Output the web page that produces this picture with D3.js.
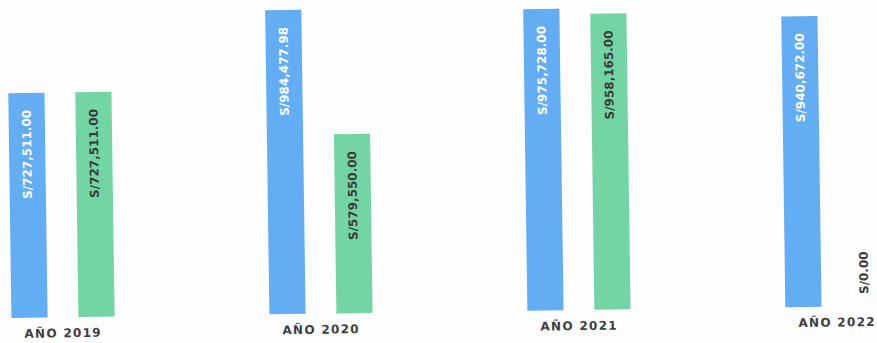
<!DOCTYPE html>
<html>
<head>
<meta charset="utf-8">
<script src="https://cdnjs.cloudflare.com/ajax/libs/d3/7.8.5/d3.min.js"></script>
<style>
  html, body { margin: 0; padding: 0; background: #fdfdfd; }
  svg { display: block; }
</style>
</head>
<body>
<div id="root"></div>
<script>
const w = 877;
const h = 343;

// data
const years = ["AÑO 2019", "AÑO 2020", "AÑO 2021", "AÑO 2022"];
const seriesNames = ["serie1", "serie2"];
const serie1 = [727511.00, 984477.98, 975728.00, 940672.00];
const serie2 = [727511.00, 579550.00, 958165.00, 0.00];

const colors = { serie1: "#62adf3", serie2: "#74d5a4" };
const labelColors = { serie1: "#ffffff", serie2: "#3b3b3b" };

const fmt = v => "S/" + d3.format(",.2f")(v);

const rows = years.map((y, i) => ({ year: y, serie1: serie1[i], serie2: serie2[i] }));

const svg = d3.select("#root")
    .append("svg")
    .attr("width", w)
    .attr("height", h);

// the scan is a bit tilted, so the whole chart is turned slightly
const chart = svg.append("g")
    .attr("transform", "rotate(-0.8, 438, 171)");

const x0 = d3.scaleBand()
    .domain(years)
    .range([-68, 964])
    .padding(0);

const x1 = d3.scaleBand()
    .domain(seriesNames)
    .range([62, 196])
    .paddingInner(0.46)
    .paddingOuter(0.23);

const y = d3.scaleLinear()
    .domain([0, 1000000])
    .range([312, 3]);

const groups = chart.selectAll("g.group")
    .data(rows)
    .enter()
    .append("g")
    .attr("class", "group")
    .attr("transform", d => "translate(" + x0(d.year) + ",0)");

const cells = groups.selectAll("g.cell")
    .data(d => seriesNames.map(k => ({ key: k, value: d[k] })))
    .enter()
    .append("g")
    .attr("class", "cell");

cells.append("rect")
    .attr("x", d => x1(d.key))
    .attr("y", d => y(d.value))
    .attr("width", x1.bandwidth())
    .attr("height", d => y(0) - y(d.value))
    .attr("fill", d => colors[d.key]);

// value labels, written bottom to top
cells.append("text")
    .attr("transform", d => {
        const cx = x1(d.key) + x1.bandwidth() / 2 - (d.value === 0 ? 6 : 0);
        const ty = d.value === 0 ? y(0) - 12 : y(d.value) + 17;
        return "translate(" + cx + "," + ty + ") rotate(-90)";
    })
    .attr("text-anchor", d => d.value === 0 ? "start" : "end")
    .attr("dominant-baseline", "central")
    .attr("font-family", "DejaVu Sans, sans-serif")
    .attr("font-weight", "bold")
    .attr("font-size", 12)
    .attr("fill", d => d.value === 0 ? "#3b3b3b" : labelColors[d.key])
    .text(d => fmt(d.value));

// year labels under each group
chart.selectAll("text.year")
    .data(years)
    .enter()
    .append("text")
    .attr("class", "year")
    .attr("x", d => x0(d) + x0.bandwidth() / 2)
    .attr("y", 332)
    .attr("text-anchor", "middle")
    .attr("font-family", "DejaVu Sans, sans-serif")
    .attr("font-weight", "bold")
    .attr("font-size", 12)
    .attr("letter-spacing", 1.3)
    .attr("fill", "#3f3f3f")
    .text(d => d);
</script>
</body>
</html>
